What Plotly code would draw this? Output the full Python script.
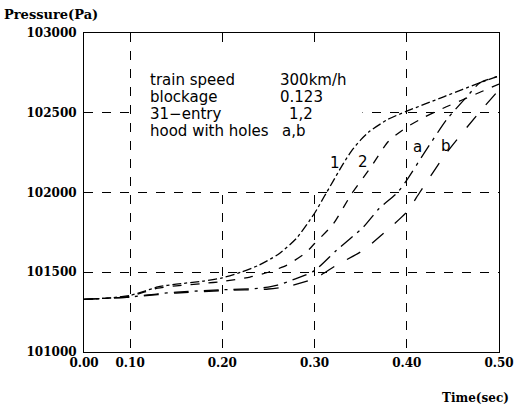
import plotly.graph_objects as go

# Time axis as drawn (the left edge of the frame is labelled 0.00)
t1 = [0.05, 0.08, 0.10, 0.115, 0.13, 0.15, 0.18, 0.20, 0.22, 0.24, 0.26, 0.28, 0.30,
      0.31, 0.32, 0.33, 0.34, 0.35, 0.36, 0.38, 0.40, 0.42, 0.44, 0.46, 0.48, 0.50]
p1 = [101330, 101340, 101355, 101380, 101408, 101425, 101445, 101465, 101500, 101545,
      101610, 101710, 101870, 101970, 102070, 102170, 102260, 102330, 102385, 102460,
      102510, 102555, 102600, 102645, 102690, 102730]

t2 = [0.05, 0.08, 0.10, 0.115, 0.13, 0.15, 0.18, 0.20, 0.23, 0.25, 0.27, 0.29, 0.30,
      0.32, 0.34, 0.36, 0.38, 0.40, 0.42, 0.44, 0.46, 0.48, 0.50]
p2 = [101330, 101340, 101350, 101375, 101400, 101415, 101430, 101442, 101470, 101500,
      101545, 101620, 101680, 101800, 101990, 102150, 102320, 102410, 102475, 102530,
      102580, 102630, 102680]

ta = [0.05, 0.10, 0.13, 0.15, 0.20, 0.24, 0.26, 0.28, 0.30, 0.324, 0.353, 0.37, 0.39,
      0.40, 0.419, 0.443, 0.465, 0.479, 0.50]
pa = [101330, 101345, 101365, 101375, 101390, 101400, 101420, 101460, 101510, 101639,
      101784, 101900, 102000, 102078, 102248, 102455, 102600, 102686, 102730]

tb = [0.05, 0.10, 0.13, 0.15, 0.20, 0.25, 0.27, 0.30, 0.324, 0.353, 0.38, 0.40, 0.414,
      0.443, 0.479, 0.50]
pb = [101330, 101345, 101360, 101370, 101385, 101395, 101410, 101460, 101545, 101639,
      101770, 101878, 102000, 102248, 102505, 102643]

x_tickvals = [0.05, 0.10, 0.20, 0.30, 0.40, 0.50]
x_ticktext = ["0.00", "0.10", "0.20", "0.30", "0.40", "0.50"]
y_tickvals = [101000, 101500, 102000, 102500, 103000]
y_ticktext = ["101000", "101500", "102000", "102500", "103000"]

info_left = ["train speed", "blockage", "31\u2212entry", "hood with holes"]
info_right = ["300km/h", "0.123", "1,2", "a,b"]

series = [
    (t1, p1, "1", "dashdot"),
    (t2, p2, "2", "dash"),
    (ta, pa, "a", "longdashdot"),
    (tb, pb, "b", "longdash"),
]

fig = go.Figure()
for t, p, name, dash in series:
    fig.add_trace(go.Scatter(x=t, y=p, mode="lines", name=name,
                             line=dict(color="black", width=1.3, dash=dash,
                                       shape="spline", smoothing=0.6),
                             showlegend=False, hoverinfo="skip"))

tickfont = dict(family="DejaVu Serif", size=12, color="black", weight="bold")
textfont = dict(family="DejaVu Sans", size=15, color="black")

fig.update_layout(
    width=514, height=409,
    margin=dict(l=84, r=15, t=33, b=57, autoexpand=False),
    paper_bgcolor="white", plot_bgcolor="white",
    xaxis=dict(range=[0.05, 0.50], tickvals=x_tickvals, ticktext=x_ticktext,
               showgrid=True, gridcolor="black", griddash="dash", gridwidth=0.8,
               showline=True, linecolor="black", linewidth=1, mirror=True,
               ticks="", zeroline=False, tickfont=tickfont, automargin=False),
    yaxis=dict(range=[101000, 103000], tickvals=y_tickvals, ticktext=y_ticktext,
               showgrid=True, gridcolor="black", griddash="dash", gridwidth=0.8,
               showline=True, linecolor="black", linewidth=1, mirror=True,
               ticks="", zeroline=False, tickfont=tickfont, ticklabelstandoff=4,
               automargin=False),
)

# white panel behind the parameter text (covers gridlines)
fig.add_shape(type="rect", xref="x", yref="y", x0=0.102, x1=0.352, y0=102030, y1=102935,
              fillcolor="white", line=dict(width=0), layer="between")

rows_y = [102705, 102599, 102492, 102386]
right_x = [0.2603, 0.2603, 0.2700, 0.2625]
for i in range(4):
    fig.add_annotation(x=0.1194, y=rows_y[i], xref="x", yref="y", text=info_left[i],
                       showarrow=False, xanchor="left", yanchor="middle", font=textfont)
    fig.add_annotation(x=right_x[i], y=rows_y[i], xref="x", yref="y", text=info_right[i],
                       showarrow=False, xanchor="left", yanchor="middle", font=textfont)

curve_labels = [("1", 0.322, 102185), ("2", 0.352, 102190), ("a", 0.412, 102285), ("b", 0.443, 102290)]
for txt, x, y in curve_labels:
    fig.add_annotation(x=x, y=y, xref="x", yref="y", text=txt, showarrow=False,
                       font=textfont)

fig.add_annotation(x=(2 - 84) / 415, y=(352 - 15) / 319, xref="paper", yref="paper",
                   text="Pressure(Pa)", showarrow=False, xanchor="left", yanchor="middle",
                   font=dict(family="DejaVu Serif", size=13, color="black", weight="bold"))
fig.add_annotation(x=(511 - 84) / 415, y=(352 - 398) / 319, xref="paper", yref="paper",
                   text="Time(sec)", showarrow=False, xanchor="right", yanchor="middle",
                   font=dict(family="DejaVu Serif", size=12, color="black", weight="bold"))

fig.write_html("out.html", config={"displayModeBar": False},
               post_script="document.body.style.margin='0';document.body.style.overflow='hidden';")
